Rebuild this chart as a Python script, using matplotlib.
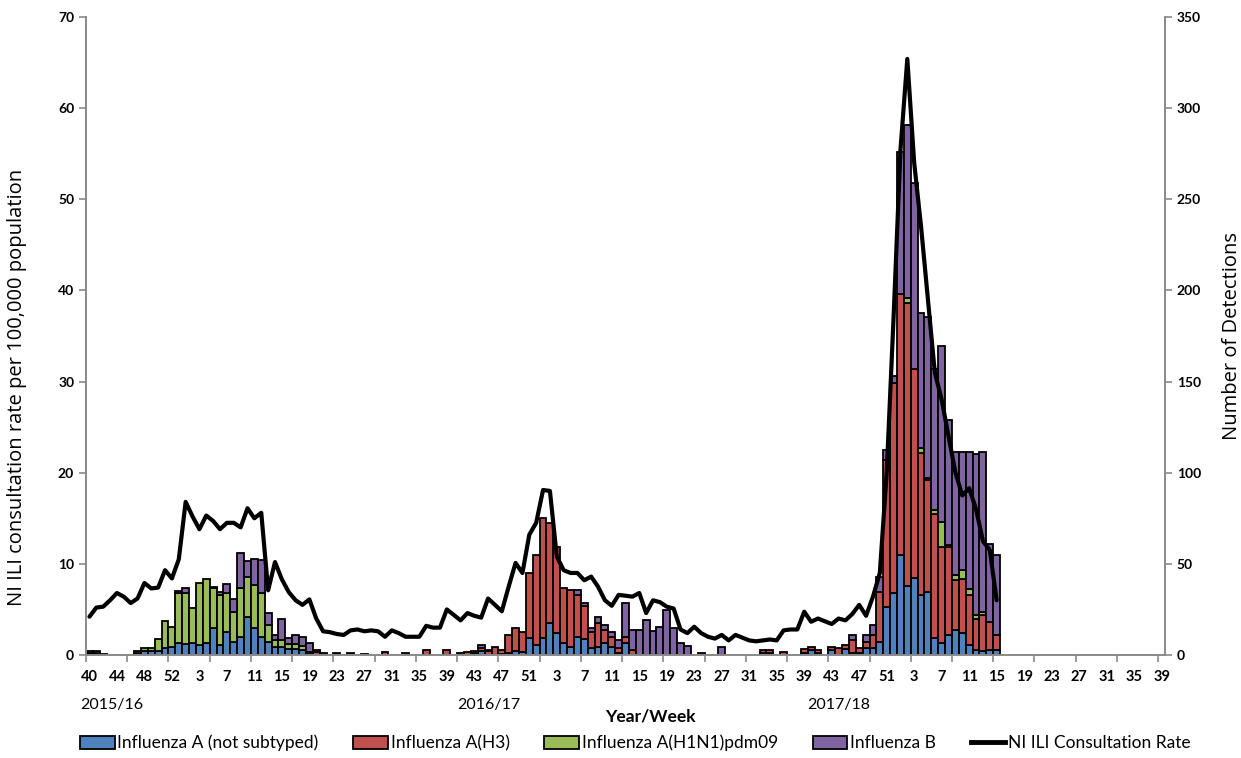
import numpy as np
import matplotlib
matplotlib.use('Agg')
import matplotlib.pyplot as plt
from matplotlib.patches import Patch
from matplotlib.lines import Line2D

plt.rcParams['font.family'] = ['Lato', 'DejaVu Sans']

# ── Data ──────────────────────────────────────────────────────────────────────
# ISO weeks, 2015 w40 .. 2018 w39 (2015 has 53 weeks)
weeks = list(range(40, 54)) + list(range(1, 53)) + list(range(1, 53)) + list(range(1, 40))
seasons = ['2015/16', '2016/17', '2017/18']

# weekly detections, 2015 w40 .. 2018 w15
a_unsub = [0, 0, 0, 0, 0, 0, 0, 1, 2, 2,
           2, 4, 4.6, 6.4, 6, 6.4, 5.5, 6.4, 14.6, 5.5,
           12.8, 7.3, 10, 21, 14.6, 10, 7.3, 4.2, 4.2, 3.3,
           3.3, 3, 0.5, 0, 0, 0, 0, 0, 0, 0,
           0, 0, 0, 0, 0, 0, 0, 0, 0, 0,
           0, 0, 0, 0, 0, 0, 1, 2, 0, 0,
           0.7, 1, 2, 1.8, 9.1, 5.5, 9.1, 17.4, 11.9, 6.6,
           4.6, 10, 8.6, 3.7, 4.6, 6.4, 4.6, 1, 6.8, 0,
           0, 0, 0, 0, 0, 0, 0, 0, 0, 0,
           0, 0, 0, 0, 0, 0, 0, 0, 1, 1,
           0, 0, 0, 0, 1, 3, 1.2, 0, 3, 0,
           3.5, 1, 1, 3.7, 3.7, 7.3, 26.5, 34, 55, 38,
           42, 33, 34.7, 9.1, 6.4, 11, 13.7, 11.9, 5.5, 3,
           2, 3, 3]
a_h3 = [1, 1, 0.5, 0, 0, 0, 0, 0, 0, 0,
        0, 0, 0, 0, 0, 0, 0, 0, 0, 0,
        0, 0, 0, 0, 0, 0, 0, 0, 0, 0,
        0, 0, 0, 1.5, 0, 0, 0, 0, 0, 0,
        0, 0, 0, 1.5, 0, 0, 0, 0, 0, 2.7,
        0, 0, 2.7, 0, 1, 1.5, 1, 2, 2, 4.6,
        2, 10, 12.6, 11, 35.7, 49.4, 65.9, 54.8, 47.5, 30.2,
        31.1, 23, 18.3, 9.1, 12.8, 7.3, 5.4, 2.7, 3.2, 2.7,
        0, 0, 0, 0, 0, 0, 0, 0, 0, 0,
        0, 0, 0, 0, 0, 0, 0, 0, 1.7, 1.5,
        0, 1.5, 0, 0, 2.1, 1.6, 1.5, 0, 1.6, 3.7,
        2, 7.2, 2.7, 3.6, 7.3, 27.4, 80.5, 115, 143, 155,
        115, 77.6, 61.5, 68.3, 53, 48.1, 27.3, 29.6, 27.5, 17,
        20, 15, 8]
a_h1 = [0, 0, 0, 0, 0, 0, 0, 1, 2, 1.7,
        6.6, 14.8, 10.6, 27.6, 28, 19.6, 33.8, 35.3, 21.9, 27.5,
        21.2, 16.5, 26.6, 22, 23.8, 24, 9.2, 4, 4, 3,
        2.5, 2, 1, 0, 0, 0, 0, 0, 0, 0,
        0, 0, 0, 0, 0, 0, 0, 0, 0, 0,
        0, 0, 0, 0, 0, 0, 0, 0, 0, 0,
        0, 0, 0, 0, 0, 0, 0, 0, 0, 0,
        0, 0, 0, 0, 0, 0, 0, 0, 0, 0,
        0, 0, 0, 0, 0, 0, 0, 0, 0, 0,
        0, 0, 0, 0, 0, 0, 0, 0, 0, 0,
        0, 0, 0, 0, 0, 0, 0, 0, 0, 0,
        0, 0, 0, 0, 0, 0, 0, 0, 0, 3,
        0, 2.8, 1.1, 2.1, 13.7, 1.4, 3, 5, 3, 2,
        1.5, 0, 0]
flu_b = [1, 1, 0, 0, 0, 0, 0, 0, 0, 0,
         0, 0, 0, 1, 2.6, 0, 0, 0, 1, 1.7,
         5, 6.7, 19.2, 8.6, 14, 18, 6.4, 2.8, 11.4, 2.8,
         5.2, 5, 4.9, 1, 1, 0, 1, 0, 1, 0,
         0.5, 0, 0, 0, 0, 0, 1, 0, 0, 0,
         0, 0, 0, 0, 0, 0, 0, 1.5, 0.7, 0,
         0, 0, 0, 0, 0, 0, 0, 0, 0, 0,
         0, 2.5, 1.8, 1.8, 3.3, 2.8, 2.8, 4.5, 18.7, 11,
         13.7, 19.2, 13.3, 15.2, 24.7, 14.6, 6.4, 4.9, 0, 1,
         0, 0, 4.2, 0, 0, 0, 0, 0, 0, 0,
         0, 0, 0, 0, 0, 0, 0, 0, 0, 0,
         0, 2.8, 0, 3.7, 5.5, 8.3, 5.5, 4, 78, 95,
         102, 74.2, 88.3, 77.5, 96.4, 68.5, 67.5, 65, 75.5, 88.5,
         88, 43, 44]
# NI ILI consultation rate per 100,000
ili_rate = [4.2, 5.2, 5.3, 6.0, 6.8, 6.4, 5.7, 6.2, 7.9, 7.3,
            7.4, 9.3, 8.4, 10.5, 16.8, 15.2, 13.8, 15.3, 14.7, 13.8,
            14.5, 14.5, 14.0, 16.1, 15.0, 15.6, 7.1, 10.2, 8.3, 6.9,
            6.0, 5.5, 6.1, 4.0, 2.6, 2.5, 2.3, 2.2, 2.7, 2.8,
            2.6, 2.7, 2.6, 2.0, 2.7, 2.4, 2.0, 2.0, 2.0, 3.2,
            3.0, 3.0, 5.0, 4.4, 3.8, 4.6, 4.3, 4.1, 6.2, 5.5,
            4.8, 7.5, 10.1, 9.0, 13.2, 14.5, 18.1, 18.0, 10.8, 9.3,
            9.0, 9.0, 8.2, 8.6, 7.5, 6.0, 5.4, 6.6, 6.5, 6.4,
            6.8, 4.6, 6.0, 5.8, 5.3, 5.1, 2.8, 2.4, 3.1, 2.4,
            2.0, 1.8, 2.2, 1.6, 2.2, 1.9, 1.6, 1.5, 1.6, 1.7,
            1.6, 2.7, 2.8, 2.8, 4.75, 3.65, 4.0, 3.7, 3.4, 4.0,
            3.8, 4.5, 5.5, 4.3, 6.4, 9.0, 20, 37, 55.4, 65.4,
            54, 47, 39, 31, 28, 24, 20, 17.5, 18.3, 16,
            12.5, 11.5, 6.0]

series = [
    ('Influenza A (not subtyped)', a_unsub, '#4F81BD'),
    ('Influenza A(H3)', a_h3, '#C0504D'),
    ('Influenza A(H1N1)pdm09', a_h1, '#9BBB59'),
    ('Influenza B', flu_b, '#8064A2'),
]

# ── Figure ────────────────────────────────────────────────────────────────────
fig = plt.figure(figsize=(12.41, 7.58), dpi=100)
ax = fig.add_axes([0.0693, 0.1359, 0.8695, 0.8417])
ax2 = ax.twinx()

x = np.arange(len(a_unsub))
bottom = np.zeros(len(x))
for name, vals, col in series:
    v = np.array(vals, dtype=float)
    m = v > 0
    ax2.bar(x[m], v[m], width=1.0, bottom=bottom[m], color=col,
            edgecolor='black', linewidth=1.3)
    bottom += v

ax.plot(x[:len(ili_rate)], ili_rate, color='black', linewidth=3.0,
        solid_joinstyle='round', solid_capstyle='round')
ax.set_zorder(ax2.get_zorder() + 1)
ax.patch.set_visible(False)

ax.set_xlim(-0.5, len(weeks) - 0.5)
ax.set_ylim(0, 70)
ax2.set_ylim(0, 350)
ax.set_yticks(np.arange(0, 71, 10))
ax2.set_yticks(np.arange(0, 351, 50))

grey = '#898989'
for a in (ax, ax2):
    a.spines['top'].set_visible(False)
    for s in ('left', 'right', 'bottom'):
        a.spines[s].set_color(grey)
        a.spines[s].set_linewidth(1.2)
    a.tick_params(axis='y', direction='out', length=5, color=grey,
                  labelsize=10, width=1.2)
for lab in ax.get_yticklabels() + ax2.get_yticklabels():
    lab.set_fontweight('bold')

# x ticks: marks every 6 weeks, labels every 4 weeks
ax.set_xticks(np.arange(-0.5, len(weeks), 6))
ax.set_xticklabels([])
ax.tick_params(axis='x', which='major', direction='out', length=5, color=grey, width=1.2)
lab_pos = np.arange(0, len(weeks), 4)
ax.set_xticks(lab_pos, minor=True)
ax.set_xticklabels([str(weeks[i]) for i in lab_pos], minor=True,
                   fontsize=10.5, fontweight='bold')
ax.tick_params(axis='x', which='minor', length=0, pad=11)

for s, xp in zip(seasons, [-1.3, 53.5, 104.4]):
    ax.text(xp, -0.078, s, transform=ax.get_xaxis_transform(), ha='left',
            va='center', fontsize=11.5)
ax.text(0.523, -0.097, 'Year/Week', transform=ax.transAxes, ha='center',
        va='center', fontsize=12.5, fontweight='bold')

ax.set_ylabel('NI ILI consultation rate per 100,000 population',
              fontsize=14.5, family=['Open Sans', 'DejaVu Sans'])
ax.yaxis.set_label_coords(-0.055, 0.42)
ax2.set_ylabel('Number of Detections', fontsize=14.5,
               family=['Open Sans', 'DejaVu Sans'])
ax2.yaxis.set_label_coords(1.053, 0.5)

handles = [Patch(facecolor=c, edgecolor='black', linewidth=1.3) for _, _, c in series]
handles.append(Line2D([0], [0], color='black', linewidth=3.5))
labels = [n for n, _, _ in series] + ['NI ILI Consultation Rate']
fig.legend(handles, labels, loc='lower center', bbox_to_anchor=(0.512, -0.012),
           ncol=5, frameon=False, fontsize=12.5, handlelength=2.0,
           handleheight=0.75, handletextpad=0.15, columnspacing=2.0)

fig.savefig('out.png', dpi=100)
